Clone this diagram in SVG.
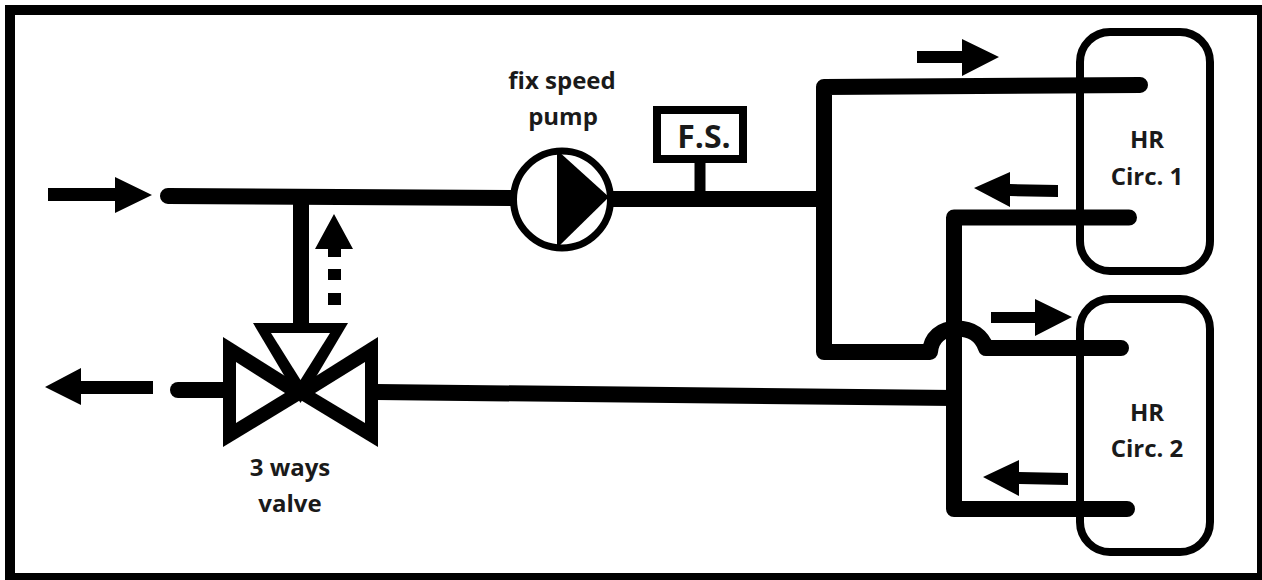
<svg xmlns="http://www.w3.org/2000/svg" width="1262" height="580" viewBox="0 0 1262 580">
<defs><style>
.p{fill:none;stroke:#000;stroke-width:16;stroke-linecap:round;stroke-linejoin:round}
.b{stroke-linecap:butt}
.a{fill:#000;stroke:none}
.hr{fill:none;stroke:#000;stroke-width:8}
text{font-family:"Open Sans","Noto Sans",sans-serif;font-weight:700;font-size:24px;fill:#1a1a1a;text-anchor:middle}
</style></defs>
<rect x="0" y="0" width="1262" height="580" fill="#fff"/>
<path d="M5 5H1262V580H5ZM15 15V573H1257V15Z" fill="#000" fill-rule="evenodd"/>
<g id="connectors">
<path class="p" d="M168 196L515 198"/>
<path class="p" d="M610 199H824"/>
<path class="p" d="M1140 85L824 87V352H930C931 338 941 328.500 957 328.500C972 328.500 982 336 986 348H1121"/>
<path class="p" d="M1129 217.500H954V509H1127"/>
<path class="p b" d="M301 196V326"/>
<path class="p" d="M178 390H226"/>
<path class="p b" d="M376 392L954 398"/>
<path class="p b" style="stroke-width:11" d="M700 160V199"/>
</g>
<g id="arrows">
<polygon class="a" points="48,188 115,188 115,177 152,195 115,213 115,201 48,201"/>
<polygon class="a" points="917,51 962,51 962,39 999,57 962,76 962,63 917,63"/>
<polygon class="a" points="1058,185 1010,184 1010,172 974,188 1010,207 1010,196 1058,197"/>
<polygon class="a" points="991,312 1035,312 1035,299 1072,317 1035,336 1035,323 991,323"/>
<polygon class="a" points="1068,473 1019,472 1019,460 983,477 1019,496 1019,484 1068,485"/>
<polygon class="a" points="153,381 81,381 81,368 45,387 81,405 81,394 153,394"/>
<polygon class="a" points="334,214 353,249 341,249 341,257 328,257 328,249 315,249"/>
<rect class="a" x="328" y="269" width="13" height="11"/>
<rect class="a" x="328" y="293" width="13" height="12"/>
</g>
<g id="pump">
<circle cx="562" cy="199.500" r="48.500" fill="#fff" stroke="#000" stroke-width="7"/>
<polygon class="a" points="557,150 609,197 557,248"/>
<text x="562" y="89">fix speed</text>
<text x="563" y="125">pump</text>
</g>
<g id="fs">
<rect x="657" y="110" width="86" height="49" fill="#fff" stroke="#000" stroke-width="8"/>
<text x="704" y="148" style="font-size:32px">F.S.</text>
</g>
<g id="valve">
<polygon class="a" points="223,337 312,393 223,447"/>
<polygon class="a" points="378,337 289,393 378,447"/>
<polygon class="a" points="253,323 348,323 300.500,403"/>
<polygon fill="#fff" points="236,362 285,393 236,423"/>
<polygon fill="#fff" points="365,362 315,393 365,423"/>
<polygon fill="#fff" points="271,333 330,333 300.500,380"/>
<text x="290" y="476">3 ways</text>
<text x="290" y="512">valve</text>
</g>
<g id="hr1">
<rect class="hr" x="1080" y="32" width="130" height="239" rx="30"/>
<text x="1147" y="148">HR</text>
<text x="1147" y="185">Circ. 1</text>
</g>
<g id="hr2">
<rect class="hr" x="1080" y="299" width="130" height="253" rx="30"/>
<text x="1147" y="421">HR</text>
<text x="1147" y="457">Circ. 2</text>
</g>
</svg>
